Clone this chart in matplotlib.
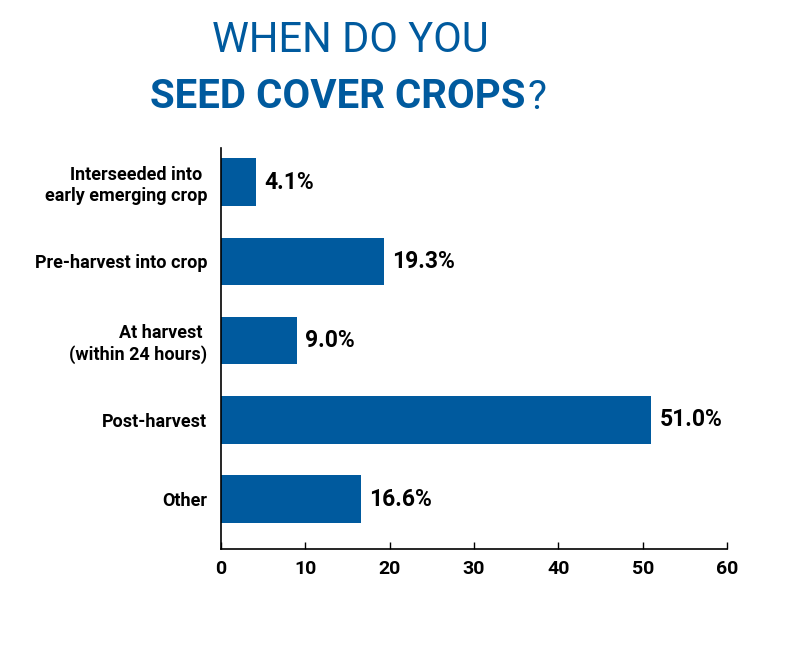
import matplotlib
matplotlib.use("Agg")
import matplotlib.pyplot as plt
from matplotlib import font_manager as fm

categories = ["Interseeded into \nearly emerging crop", "Pre-harvest into crop",
              "At harvest \n(within 24 hours)", "Post-harvest", "Other"]
values = [4.1, 19.3, 9.0, 51.0, 16.6]
xticks = [0, 10, 20, 30, 40, 50, 60]

names = {f.name for f in fm.fontManager.ttflist}
cond = "Liberation Sans Narrow" if "Liberation Sans Narrow" in names else "Roboto"
thin = "Roboto" if "Roboto" in names else "DejaVu Sans"

blue = "#005a9e"
fig = plt.figure(figsize=(7.89, 6.52), dpi=100)
ax = fig.add_axes([0.2801, 0.158, 0.6413, 0.615])
ypos = list(range(len(values)))
ax.barh(ypos, values, height=0.6, color=blue)
ax.set_ylim(4.63, -0.43)
ax.set_xlim(0, 60)
ax.set_xticks(xticks)
ax.set_yticks(ypos)
ax.set_yticklabels(categories, fontfamily=cond, fontweight="bold", fontsize=13,
                   linespacing=1.2)
for lab in ax.get_yticklabels():
    lab.set_multialignment("right")
ax.tick_params(axis="y", length=0, pad=10)
ax.tick_params(axis="x", direction="in", length=5, width=1, pad=8)
for lab in ax.get_xticklabels():
    lab.set_fontfamily(cond)
    lab.set_fontweight("bold")
    lab.set_fontsize(14)
for s in ["top", "right"]:
    ax.spines[s].set_visible(False)
for s in ["left", "bottom"]:
    ax.spines[s].set_linewidth(1.2)
for y, v in zip(ypos, values):
    ax.text(v + 1.0, y, f"{v:.1f}%", va="center", ha="left", fontfamily=cond,
            fontweight="bold", fontsize=16.5)

fig.text(0.444, 0.938, "WHEN DO YOU", ha="center", va="center", color=blue,
         fontfamily=thin, fontweight="normal", fontsize=30)

# bold line + regular "?"
t1 = fig.text(0, 0.851, "SEED COVER CROPS", ha="left", va="center", color=blue,
              fontfamily=cond, fontweight="bold", fontsize=29)
t2 = fig.text(0, 0.851, "?", ha="left", va="center", color=blue,
              fontfamily=thin, fontweight="normal", fontsize=29)
fig.canvas.draw()
r = fig.canvas.get_renderer()
w1 = t1.get_window_extent(r).width
w2 = t2.get_window_extent(r).width
W = fig.bbox.width
total = w1 + 2 + w2
x0 = 348 - total / 2
t1.set_x(x0 / W)
t2.set_x((x0 + w1 + 2) / W)
fig.savefig("out.png", dpi=100)
